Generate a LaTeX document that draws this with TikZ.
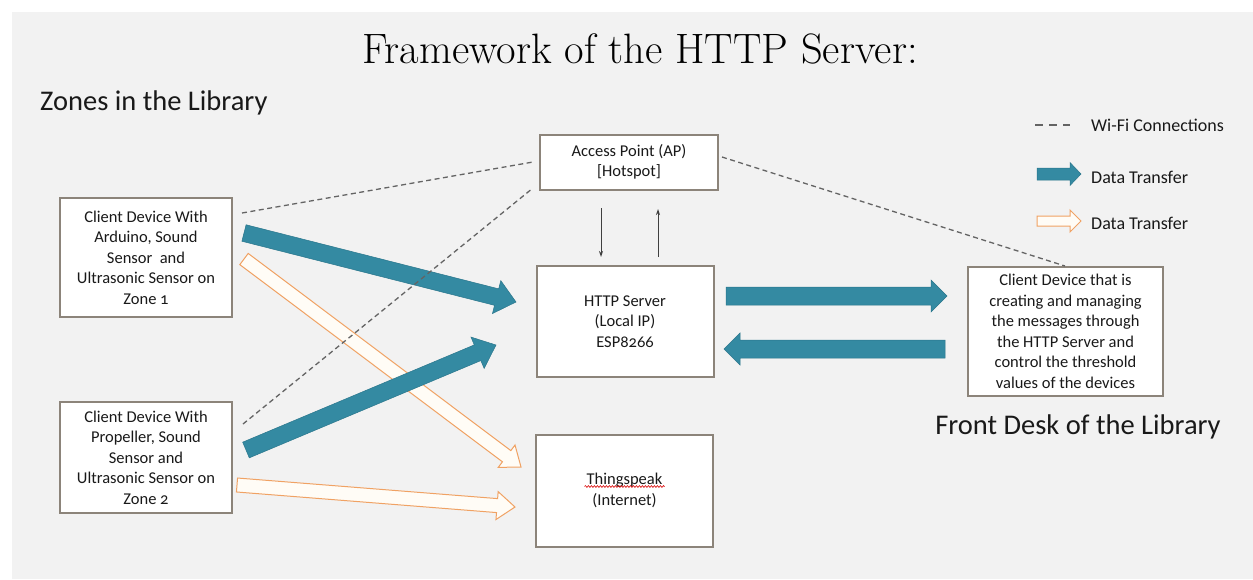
\documentclass[tikz,border=0pt]{standalone}
\usepackage{fontspec}
\newfontfamily\boxfont{Carlito}[Numbers=OldStyle]
\usetikzlibrary{calc,arrows.meta,decorations.pathmorphing}
\definecolor{bgc}{RGB}{242,242,242}
\definecolor{boxc}{RGB}{140,132,122}
\definecolor{bluec}{RGB}{52,138,162}
\definecolor{bluedk}{RGB}{42,118,140}
\definecolor{orc}{RGB}{240,162,100}
\definecolor{orfill}{RGB}{255,252,246}
\definecolor{dashc}{RGB}{100,100,100}
\definecolor{txtc}{RGB}{25,25,25}
\newcommand\fatarrow[6]{% style, from, to, half shaft, half head, head length
  \coordinate (fa-h) at ($(#3)!#6!(#2)$);
  \draw[#1] ($(#2)!#4!90:(#3)$) -- ($(fa-h)!#4!90:(#3)$) -- ($(fa-h)!#5!90:(#3)$) -- (#3)
    -- ($(fa-h)!#5!-90:(#3)$) -- ($(fa-h)!#4!-90:(#3)$) -- ($(#2)!#4!-90:(#3)$) -- cycle;
}
\tikzset{
  devbox/.style={draw=boxc, line width=2pt, fill=white, align=center, inner sep=0pt,
    text=txtc, font=\boxfont\fontsize{16.5}{20.5}\selectfont},
  blueflow/.style={fill=bluec, draw=bluedk, line width=0.5pt, line join=miter},
  orflow/.style={fill=orfill, draw=orc, line width=1pt, line join=miter},
  wifi/.style={draw=dashc, line width=1.3pt, dash pattern=on 5pt off 3.5pt},
  thinarr/.style={draw=black!75, line width=1pt, -{Stealth[length=6pt,width=4pt]}},
  legtext/.style={anchor=west, inner sep=0pt, text=txtc, font=\boxfont\fontsize{18}{20}\selectfont},
  bigtext/.style={inner sep=0pt, text=txtc, font=\boxfont\fontsize{28.5}{32}\selectfont}
}
\begin{document}
\begin{tikzpicture}[x=1pt,y=-1pt]
\useasboundingbox (0,0) rectangle (1253,579);
\fill[white] (0,0) rectangle (1253,579);
\fill[bgc] (12,12) rectangle (1253,579);

% titles
\node[anchor=base, inner sep=0pt, text=black] (title) at (640,63)
  {\fontsize{42.5}{46}\selectfont\addfontfeature{FakeBold=1.6}Framework of the HTTP Server:};
\node[bigtext, anchor=base west] (zones) at (40,110) {Zones in the Library};
\node[bigtext, anchor=base] (frontlbl) at (1078,434) {Front Desk of the Library};

% boxes
\node[devbox, minimum width=172pt, minimum height=119pt] (c1) at (146,257.5)
  {Client Device With\\Arduino, Sound\\Sensor \ and\\Ultrasonic Sensor on\\Zone 1};
\node[devbox, minimum width=172pt, minimum height=111pt] (c2) at (146,457.5)
  {Client Device With\\Propeller, Sound\\Sensor and\\Ultrasonic Sensor on\\Zone 2};
\node[devbox, minimum width=178pt, minimum height=55pt] (ap) at (629,162)
  {Access Point (AP)\\{[Hotspot]}};
\node[devbox, minimum width=177pt, minimum height=111pt] (http) at (625,321.5)
  {HTTP Server\\(Local IP)\\ESP8266};
\node[devbox, minimum width=177pt, minimum height=112pt] (thing) at (624.5,490.5)
  {Thingspeak\\(Internet)};
\node[devbox, minimum width=195pt, minimum height=129pt] (front) at (1065.5,331.5)
  {Client Device that is\\creating and managing\\the messages through\\the HTTP Server and\\control the threshold\\values of the devices};
\draw[red!85!black, line width=0.6pt, decorate, decoration={snake, amplitude=0.9pt, segment length=3pt}]
  ($(thing.center)+(-40,-4)$) -- ($(thing.center)+(40,-4)$);

% arrow end points
\coordinate (o1a) at (244,259);
\coordinate (o1b) at (521,467);
\coordinate (o2a) at (237,485);
\coordinate (o2b) at (515,507);
\coordinate (b1a) at (244,233);
\coordinate (b1b) at (516,302);
\coordinate (b2a) at (246,450);
\coordinate (b2b) at (496,345);
\coordinate (b3a) at (726,296);
\coordinate (b3b) at (947,296);
\coordinate (b4a) at (945,349);
\coordinate (b4b) at (724,349);

% orange (outlined) data transfer
\fatarrow{orflow}{o1a}{o1b}{7pt}{14pt}{18pt}
\fatarrow{orflow}{o2a}{o2b}{7pt}{14pt}{18pt}
% blue data transfer
\fatarrow{blueflow}{b1a}{b1b}{8.5pt}{17pt}{20pt}
\fatarrow{blueflow}{b2a}{b2b}{8.5pt}{17pt}{20pt}
\fatarrow{blueflow}{b3a}{b3b}{9pt}{16pt}{16pt}
\fatarrow{blueflow}{b4a}{b4b}{9pt}{16pt}{16pt}

% thin arrows between AP and HTTP server
\coordinate (t1a) at (601,208);
\coordinate (t1b) at (601,257);
\coordinate (t2a) at (658,257);
\coordinate (t2b) at (658,209);
\draw[thinarr] (t1a) -- (t1b);
\draw[thinarr] (t2a) -- (t2b);

% wi-fi connections
\coordinate (w1a) at (242,213);
\coordinate (w1b) at (533,162);
\coordinate (w2a) at (243,424);
\coordinate (w2b) at (533,188);
\coordinate (w3a) at (722,157);
\coordinate (w3b) at (1065,266);
\draw[wifi] (w1a) -- (w1b);
\draw[wifi] (w2a) -- (w2b);
\draw[wifi] (w3a) -- (w3b);

% legend
\coordinate (l1a) at (1035,125);
\coordinate (l1b) at (1070,125);
\draw[wifi, line width=1.1pt, dash pattern=on 8pt off 6pt] (l1a) -- (l1b);
\node[legtext] (lt1) at (1091,125) {Wi-Fi Connections};
\coordinate (l2a) at (1037,174);
\coordinate (l2b) at (1081,174);
\fatarrow{blueflow}{l2a}{l2b}{6pt}{11.5pt}{11pt}
\node[legtext] (lt2) at (1091,177) {Data Transfer};
\coordinate (l3a) at (1037,221);
\coordinate (l3b) at (1081,221);
\fatarrow{orflow}{l3a}{l3b}{5pt}{11pt}{11pt}
\node[legtext] (lt3) at (1091,223) {Data Transfer};
\end{tikzpicture}
\end{document}
